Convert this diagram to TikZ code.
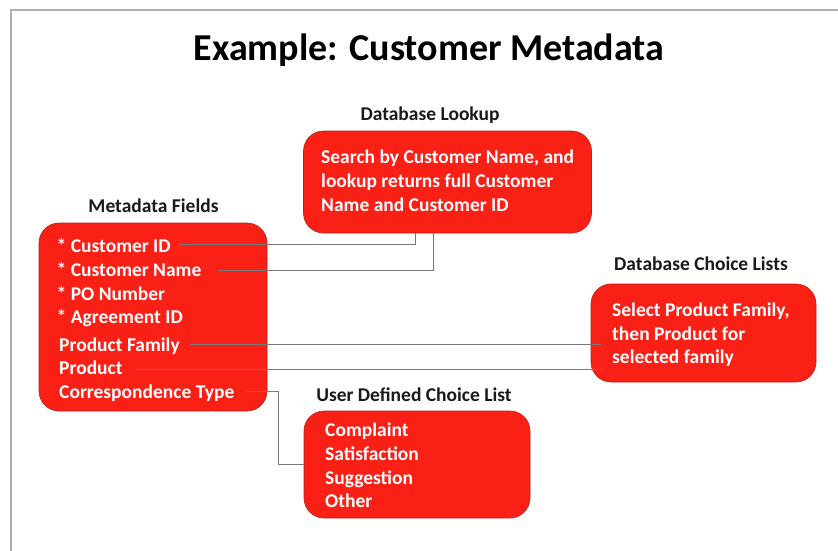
\documentclass[tikz,border=0pt]{standalone}
\usepackage{fontspec}
\setmainfont{Carlito}
\definecolor{boxred}{RGB}{250,32,22}
\definecolor{boxedge}{RGB}{190,30,25}
\definecolor{conngray}{RGB}{120,120,120}
\definecolor{framegray}{RGB}{175,175,175}
\definecolor{labelcol}{RGB}{25,25,30}
\begin{document}
\begin{tikzpicture}[x=1pt,y=-1pt,
  redbox/.style={draw=boxedge,line width=0.6pt,fill=boxred,rounded corners=20pt,inner sep=0pt},
  boxtext/.style={anchor=base west,inner sep=0pt,text=white,font=\bfseries\fontsize{19.5}{24}\selectfont},
  grouplabel/.style={anchor=base,inner sep=0pt,text=labelcol,font=\bfseries\fontsize{19.5}{22}\selectfont},
  conn/.style={draw=conngray,line width=0.9pt},
  frameline/.style={draw=framegray,line width=1.4pt}]
\useasboundingbox (0,0) rectangle (838,551);
\fill[white] (0,0) rectangle (838,551);
\coordinate (ftl) at (11,10);
\coordinate (ftr) at (838,10);
\coordinate (fbl) at (11,551);
\draw[frameline] (fbl) -- (ftl) -- (ftr);

% title
\node[anchor=base,inner sep=0pt,font=\bfseries\fontsize{38}{44}\selectfont] (title) at (429,60) {Example: Customer Metadata};

% boxes
\node[redbox,minimum width=288pt,minimum height=102pt] (lookup) at (447.5,182) {};
\node[redbox,minimum width=228pt,minimum height=188pt] (meta) at (153,317) {};
\node[redbox,minimum width=225pt,minimum height=98pt] (choice) at (703.5,333) {};
\node[redbox,minimum width=226pt,minimum height=107pt] (user) at (417,464.5) {};

% group labels
\node[grouplabel] (lookuplbl) at (430,121) {Database Lookup};
\node[grouplabel] (metalbl) at (153.5,212) {Metadata Fields};
\node[grouplabel] (choicelbl) at (701,270) {Database Choice Lists};
\node[grouplabel] (userlbl) at (414,401) {User Defined Choice List};

% lookup text
\node[boxtext] (lk1) at (321,163.5) {Search by Customer Name, and};
\node[boxtext] (lk2) at (321,187.5) {lookup returns full Customer};
\node[boxtext] (lk3) at (321,211) {Name and Customer ID};

% metadata fields
\node[boxtext] (cid) at (56.5,252) {* Customer ID};
\node[boxtext] (cname) at (56.5,276) {* Customer Name};
\node[boxtext] (po) at (56.5,300) {* PO Number};
\node[boxtext] (agr) at (56.5,323.5) {* Agreement ID};
\node[boxtext] (pfam) at (59,351) {Product Family};
\node[boxtext] (prod) at (59,374.5) {Product};
\node[boxtext] (corr) at (59,398) {Correspondence Type};

% choice list text
\node[boxtext] (ch1) at (612,316.5) {Select Product Family,};
\node[boxtext] (ch2) at (612,340) {then Product for};
\node[boxtext] (ch3) at (612,363.5) {selected family};

% user defined list
\node[boxtext] (u1) at (325,436.5) {Complaint};
\node[boxtext] (u2) at (325,460) {Satisfaction};
\node[boxtext] (u3) at (325,484) {Suggestion};
\node[boxtext] (u4) at (325,507.5) {Other};

% connectors
\draw[conn] ([shift={(8pt,8pt)}]cid.base east) -| ([xshift=-32.5pt]lookup.south);
\draw[conn] ([shift={(16pt,5.5pt)}]cname.base east) -| ([xshift=-14pt]lookup.south);
\draw[conn] ([shift={(10pt,7pt)}]pfam.base east) -- ([shift={(10pt,7pt)}]pfam.base east -| choice.west);
\draw[conn] ([shift={(13pt,5pt)}]prod.base east) -- ([shift={(13pt,5pt)}]prod.base east -| choice.west);
\coordinate (cbend) at (278,464);
\draw[conn] ([shift={(11pt,7pt)}]corr.base east) -| (cbend) -- (cbend -| user.west);
\end{tikzpicture}
\end{document}
